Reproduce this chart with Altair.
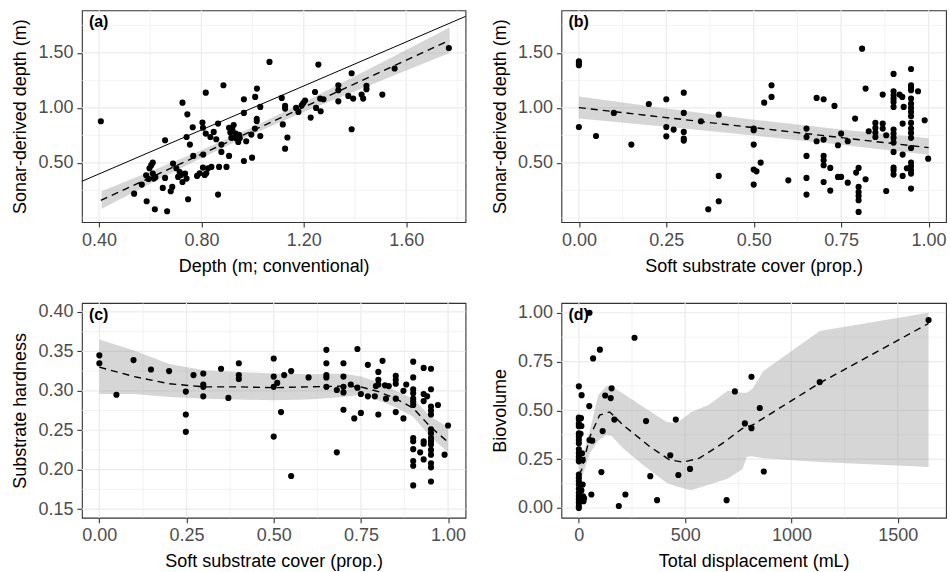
import altair as alt
import pandas as pd

FONT = "Liberation Sans"
GRID = "#EBEBEB"
INK = "#333333"

# ---------------- Panel (a) ----------------
a_x = [0.407, 1.066, 0.886, 0.817, 0.726, 0.745, 0.766, 0.804, 0.806, 0.817, 0.835, 0.848, 0.865, 0.858,
       0.878, 0.878, 0.908, 0.913, 0.926, 0.921, 0.934, 0.917, 0.947, 0.934, 0.950, 0.908, 0.966, 0.966,
       0.975, 0.966, 0.998, 0.995, 1.016, 1.016, 1.017, 1.010, 1.030, 1.030, 0.755, 0.742, 0.658, 0.768,
       0.807, 0.869, 0.898, 0.865, 0.806, 0.793, 0.819, 0.826, 0.839, 0.813, 0.783, 0.736, 0.742, 0.726,
       0.709, 0.702, 0.689, 0.715, 0.686, 0.680, 0.658, 0.649, 0.610, 0.597, 0.610, 0.614, 0.584, 0.593,
       0.567, 0.537, 0.586, 0.618, 0.666, 0.748, 1.009, 0.944, 0.604, 0.620, 0.720,
       1.257, 1.114, 1.127, 1.127, 1.118, 1.136, 1.127, 1.170, 1.179, 1.192, 1.198, 1.205, 1.227, 1.244,
       1.248, 1.266, 1.264, 1.277, 1.335, 1.335, 1.335, 1.374, 1.387, 1.387, 1.393, 1.426, 1.432, 1.445,
       1.445, 1.507, 1.555, 1.767]
a_y = [0.879, 1.418, 1.206, 1.139, 1.048, 0.942, 0.824, 0.867, 0.820, 0.767, 0.736, 0.782, 0.858, 0.715,
       0.667, 0.600, 0.820, 0.776, 0.845, 0.800, 0.767, 0.728, 0.755, 0.727, 0.727, 0.564, 1.079, 0.955,
       0.697, 0.518, 0.548, 0.758, 0.900, 0.879, 1.176, 1.100, 1.009, 0.745, 0.667, 0.736, 0.706, 0.564,
       0.576, 0.464, 0.464, 0.212, 0.458, 0.406, 0.406, 0.452, 0.464, 0.391, 0.382, 0.403, 0.358, 0.327,
       0.373, 0.452, 0.494, 0.418, 0.282, 0.243, 0.364, 0.273, 0.503, 0.452, 0.403, 0.358, 0.388, 0.355,
       0.303, 0.221, 0.152, 0.079, 0.061, 0.170, 0.812, 0.691, 0.480, 0.370, 0.390,
       1.394, 1.091, 1.018, 0.994, 0.850, 0.731, 0.630, 1.000, 0.964, 1.024, 1.045, 1.067, 0.912, 1.145,
       1.000, 0.970, 1.085, 1.079, 1.206, 1.161, 1.060, 1.109, 1.315, 0.806, 1.085, 1.121, 1.085, 1.200,
       1.170, 1.121, 1.358, 1.545]
a_fit_x = [0.407, 1.77]
a_fit_y = [0.160, 1.615]
a_band_x = [0.41, 0.6, 0.8, 1.0, 1.2, 1.4, 1.6, 1.77]
a_band_lo = [0.084, 0.310, 0.544, 0.762, 0.962, 1.152, 1.341, 1.500]
a_band_hi = [0.242, 0.422, 0.616, 0.824, 1.052, 1.288, 1.527, 1.730]
a_one_x = [0.3, 1.9]
a_one_y = [0.3, 1.9]

# ---------------- Panel (b) ----------------
b_pts = [(0, 1.424), (0, 1.403), (0, 1.388), (0, 0.827), (0.049, 0.745), (0.1, 0.955), (0.15, 0.667),
         (0.2, 1.036), (0.25, 1.079), (0.25, 0.827), (0.25, 0.742), (0.271, 0.803), (0.3, 1.139),
         (0.3, 0.955), (0.3, 0.782), (0.3, 0.721), (0.3, 0.703), (0.349, 0.879), (0.4, 0.939),
         (0.4, 0.382), (0.4, 0.152), (0.37, 0.079), (0.5, 0.812), (0.5, 0.797), (0.5, 0.667), (0.5, 0.44),
         (0.508, 0.424), (0.5, 0.303), (0.52, 0.503), (0.53, 1.048), (0.551, 1.206), (0.551, 1.1),
         (0.599, 0.342), (0.651, 0.812), (0.651, 0.736), (0.651, 0.564), (0.651, 0.364), (0.651, 0.212),
         (0.68, 1.091), (0.68, 0.697), (0.7, 1.079), (0.7, 0.712), (0.7, 0.564), (0.7, 0.524), (0.7, 0.479),
         (0.7, 0.327), (0.719, 0.455), (0.719, 0.249), (0.731, 1.018), (0.741, 0.661), (0.75, 0.767),
         (0.741, 0.373), (0.75, 0.373), (0.769, 0.697), (0.769, 0.321), (0.79, 0.903), (0.793, 0.412),
         (0.8, 0.455), (0.8, 0.282), (0.8, 0.236), (0.8, 0.2), (0.8, 0.161), (0.8, 0.055), (0.81, 1.539),
         (0.82, 1.176), (0.82, 0.352), (0.829, 0.788), (0.848, 0.864), (0.848, 0.818), (0.848, 0.776),
         (0.848, 0.736), (0.869, 1.121), (0.869, 0.858), (0.869, 0.812), (0.879, 0.752), (0.879, 0.245),
         (0.9, 1.309), (0.9, 1.152), (0.9, 1.115), (0.9, 1.085), (0.9, 1.055), (0.9, 1.009), (0.9, 0.803),
         (0.9, 0.767), (0.9, 0.728), (0.9, 0.685), (0.9, 0.6), (0.9, 0.458), (0.9, 0.433), (0.9, 0.394),
         (0.917, 1.121), (0.925, 1.1), (0.929, 1.009), (0.926, 0.858), (0.926, 0.576), (0.926, 0.382),
         (0.938, 0.452), (0.95, 1.354), (0.95, 1.206), (0.95, 1.182), (0.95, 1.161), (0.95, 1.085),
         (0.95, 1.039), (0.95, 1.0), (0.95, 0.964), (0.95, 0.924), (0.95, 0.864), (0.95, 0.812),
         (0.95, 0.773), (0.95, 0.728), (0.95, 0.636), (0.95, 0.503), (0.95, 0.47), (0.95, 0.433),
         (0.95, 0.403), (0.95, 0.267), (0.97, 1.152), (0.989, 0.888), (0.999, 0.539)]
b_x = [p[0] for p in b_pts]
b_y = [p[1] for p in b_pts]
b_fit_x = [0.0, 1.0]
b_fit_y = [1.003, 0.639]
b_band_x = [0.0, 0.25, 0.5, 0.75, 1.0]
b_band_lo = [0.903, 0.829, 0.749, 0.665, 0.575]
b_band_hi = [1.103, 0.995, 0.893, 0.805, 0.725]

# ---------------- Panel (c) ----------------
c_pts = [(0, 0.345), (0, 0.335), (0.049, 0.295), (0.098, 0.339), (0.148, 0.327), (0.2, 0.325),
         (0.248, 0.299), (0.248, 0.27), (0.248, 0.248), (0.27, 0.32), (0.298, 0.322), (0.298, 0.308),
         (0.298, 0.305), (0.298, 0.293), (0.349, 0.328), (0.37, 0.291), (0.4, 0.335), (0.4, 0.32),
         (0.4, 0.315), (0.5, 0.341), (0.5, 0.318), (0.5, 0.305), (0.5, 0.242), (0.51, 0.31), (0.521, 0.273),
         (0.53, 0.32), (0.55, 0.325), (0.55, 0.192), (0.6, 0.317), (0.651, 0.352), (0.651, 0.335),
         (0.651, 0.32), (0.651, 0.317), (0.651, 0.305), (0.681, 0.222), (0.681, 0.301), (0.7, 0.335),
         (0.7, 0.318), (0.7, 0.305), (0.7, 0.298), (0.7, 0.276), (0.721, 0.308), (0.731, 0.265),
         (0.74, 0.353), (0.74, 0.304), (0.75, 0.296), (0.75, 0.272), (0.77, 0.333), (0.77, 0.293),
         (0.79, 0.293), (0.793, 0.306), (0.8, 0.324), (0.8, 0.314), (0.8, 0.308), (0.8, 0.27),
         (0.812, 0.338), (0.819, 0.307), (0.822, 0.29), (0.83, 0.306), (0.85, 0.319), (0.85, 0.314),
         (0.85, 0.309), (0.85, 0.29), (0.85, 0.273), (0.872, 0.3), (0.872, 0.265), (0.88, 0.308),
         (0.9, 0.337), (0.9, 0.317), (0.9, 0.302), (0.9, 0.297), (0.9, 0.29), (0.9, 0.286), (0.9, 0.282),
         (0.9, 0.24), (0.9, 0.236), (0.9, 0.226), (0.9, 0.211), (0.9, 0.205), (0.9, 0.18), (0.92, 0.222),
         (0.93, 0.329), (0.93, 0.296), (0.93, 0.287), (0.93, 0.236), (0.93, 0.233), (0.93, 0.213),
         (0.94, 0.293), (0.951, 0.328), (0.951, 0.302), (0.951, 0.28), (0.951, 0.275), (0.951, 0.27),
         (0.951, 0.251), (0.951, 0.246), (0.951, 0.24), (0.951, 0.236), (0.951, 0.232), (0.951, 0.225),
         (0.951, 0.219), (0.951, 0.208), (0.951, 0.203), (0.951, 0.185), (0.971, 0.282), (0.99, 0.219),
         (1.0, 0.256)]
c_x = [p[0] for p in c_pts]
c_y = [p[1] for p in c_pts]
c_band_x = [0.0, 0.1, 0.2, 0.3, 0.4, 0.5, 0.6, 0.7, 0.75, 0.8, 0.85, 0.9, 0.95, 1.0]
c_fit = [0.330, 0.318, 0.309, 0.305, 0.305, 0.304, 0.305, 0.306, 0.305, 0.299, 0.290, 0.278, 0.254, 0.235]
c_band_hi = [0.365, 0.351, 0.334, 0.326, 0.324, 0.322, 0.321, 0.322, 0.318, 0.311, 0.300, 0.290, 0.267, 0.254]
c_band_lo = [0.296, 0.296, 0.292, 0.290, 0.289, 0.288, 0.289, 0.292, 0.295, 0.288, 0.279, 0.267, 0.241, 0.222]

# ---------------- Panel (d) ----------------
d_pts = [(0, 0.623), (0, 0.463), (0, 0.453), (0, 0.432), (0, 0.419), (0, 0.382), (0, 0.365), (0, 0.348),
         (0, 0.331), (0, 0.301), (0, 0.281), (0, 0.263), (0, 0.247), (0, 0.239), (0, 0.171), (0, 0.154),
         (0, 0.137), (0, 0.12), (0, 0.098), (0, 0.078), (0, 0.061), (0, 0.044), (0, 0.027), (0, 0.01),
         (0, 0.0), (13, 0.578), (10, 0.46), (12, 0.42), (8, 0.38), (15, 0.28), (18, 0.245), (20, 0.06),
         (22, 0.035), (12, 0.09), (25, 0.05), (18, 0.12), (49, 0.522), (50, 0.348), (63, 0.345),
         (67, 0.766), (99, 0.811), (50, 1.0), (262, 0.872), (59, 0.069), (106, 0.184), (112, 0.394),
         (124, 0.576), (150, 0.563), (154, 0.613), (167, 0.453), (188, 0.010), (219, 0.069), (316, 0.445),
         (336, 0.163), (368, 0.040), (430, 0.27), (456, 0.453), (468, 0.169), (523, 0.2), (695, 0.04),
         (734, 0.597), (781, 0.433), (812, 0.672), (812, 0.409), (851, 0.512), (870, 0.187), (1133, 0.645),
         (1645, 0.963)]
d_x = [p[0] for p in d_pts]
d_y = [p[1] for p in d_pts]
d_fit_x = [0, 13, 52, 98, 145, 208, 333, 426, 489, 567, 677, 770, 817, 1133, 1645]
d_fit_y = [0.17, 0.196, 0.365, 0.476, 0.492, 0.425, 0.315, 0.247, 0.235, 0.255, 0.332, 0.408, 0.425, 0.64, 0.945]
d_band_x = [0, 13, 52, 91, 130, 153, 208, 302, 411, 460, 528, 614, 700, 770, 790, 817, 867, 1133, 1645]
d_band_lo = [0.12, 0.154, 0.281, 0.345, 0.374, 0.37, 0.306, 0.22, 0.13, 0.11, 0.091, 0.12, 0.15, 0.2,
             0.262, 0.265, 0.255, 0.235, 0.21]
d_band_hi = [0.22, 0.247, 0.399, 0.577, 0.623, 0.623, 0.586, 0.518, 0.442, 0.434, 0.49, 0.53, 0.6, 0.59,
             0.59, 0.611, 0.70, 0.907, 1.0]


def panel(px, py, xdom, ydom, xmaj, xmin, ymaj, ymin, xfmt, yfmt, xtitle, ytitle, label, w, h,
          band=None, fit=None, ident=None):
    xs = alt.Scale(domain=xdom, nice=False, zero=False)
    ys = alt.Scale(domain=ydom, nice=False, zero=False)
    xa = alt.Axis(values=xmaj, format=xfmt, title=xtitle)
    ya = alt.Axis(values=ymaj, format=yfmt, title=ytitle)
    X = lambda f: alt.X(f, type="quantitative", scale=xs, axis=xa)
    Y = lambda f: alt.Y(f, type="quantitative", scale=ys, axis=ya)
    layers = []
    layers.append(alt.Chart(pd.DataFrame({"x": xmin})).mark_rule(color=GRID, strokeWidth=0.6).encode(x=X("x")))
    layers.append(alt.Chart(pd.DataFrame({"y": ymin})).mark_rule(color=GRID, strokeWidth=0.6).encode(y=Y("y")))
    layers.append(alt.Chart(pd.DataFrame({"x": xmaj})).mark_rule(color=GRID, strokeWidth=1.2).encode(x=X("x")))
    layers.append(alt.Chart(pd.DataFrame({"y": ymaj})).mark_rule(color=GRID, strokeWidth=1.2).encode(y=Y("y")))
    if band is not None:
        bx, blo, bhi = band
        layers.append(alt.Chart(pd.DataFrame({"x": bx, "lo": blo, "hi": bhi}))
                      .mark_area(color="#999999", opacity=0.4)
                      .encode(x=X("x"), y=Y("lo"), y2="hi"))
    if ident is not None:
        ix, iy = ident
        layers.append(alt.Chart(pd.DataFrame({"x": ix, "y": iy}))
                      .mark_line(color="black", strokeWidth=1.0, clip=True)
                      .encode(x=X("x"), y=Y("y")))
    if fit is not None:
        fx, fy = fit
        layers.append(alt.Chart(pd.DataFrame({"x": fx, "y": fy}))
                      .mark_line(color="black", strokeWidth=1.4, strokeDash=[7, 5], clip=True)
                      .encode(x=X("x"), y=Y("y")))
    layers.append(alt.Chart(pd.DataFrame({"x": px, "y": py}))
                  .mark_circle(color="black", size=38, opacity=1)
                  .encode(x=X("x"), y=Y("y")))
    layers.append(alt.Chart(pd.DataFrame({"t": [label]}))
                  .mark_text(font=FONT, fontSize=16, fontWeight="bold", align="left",
                             baseline="middle", color="black")
                  .encode(text="t:N", x=alt.value(7), y=alt.value(12)))
    return alt.layer(*layers).properties(width=w, height=h)


YD_AB = [-0.0375, 1.8875]
pa = panel(a_x, a_y, [0.333, 1.832], YD_AB, [0.4, 0.8, 1.2, 1.6], [0.6, 1.0, 1.4, 1.8],
           [0.5, 1.0, 1.5], [0.0, 0.25, 0.75, 1.25, 1.75], ".2f", ".2f",
           "Depth (m; conventional)", "Sonar-derived depth (m)", "(a)", 384, 212,
           band=(a_band_x, a_band_lo, a_band_hi), fit=(a_fit_x, a_fit_y), ident=(a_one_x, a_one_y))
pb = panel(b_x, b_y, [-0.05, 1.05], YD_AB, [0, 0.25, 0.5, 0.75, 1.0], [0.125, 0.375, 0.625, 0.875],
           [0.5, 1.0, 1.5], [0.0, 0.25, 0.75, 1.25, 1.75], ".2f", ".2f",
           "Soft substrate cover (prop.)", "Sonar-derived depth (m)", "(b)", 385, 212,
           band=(b_band_x, b_band_lo, b_band_hi), fit=(b_fit_x, b_fit_y))
pc = panel(c_x, c_y, [-0.05, 1.05], [0.139, 0.4114], [0, 0.25, 0.5, 0.75, 1.0], [0.125, 0.375, 0.625, 0.875],
           [0.15, 0.2, 0.25, 0.3, 0.35, 0.4], [0.175, 0.225, 0.275, 0.325, 0.375], ".2f", ".2f",
           "Soft substrate cover (prop.)", "Substrate hardness", "(c)", 384, 215,
           band=(c_band_x, c_band_lo, c_band_hi), fit=(c_band_x, c_fit))
pd_ = panel(d_x, d_y, [-82, 1727], [-0.05, 1.05], [0, 500, 1000, 1500], [250, 750, 1250],
            [0, 0.25, 0.5, 0.75, 1.0], [0.125, 0.375, 0.625, 0.875], "d", ".2f",
            "Total displacement (mL)", "Biovolume", "(d)", 385, 215,
            band=(d_band_x, d_band_lo, d_band_hi), fit=(d_fit_x, d_fit_y))

chart = alt.concat(pa, pb, pc, pd_, columns=2, spacing={"row": 81, "column": 96}, bounds="flush").properties(
    padding={"left": 11, "top": 8, "right": 2, "bottom": 2},
    background="white"
).configure_view(stroke=INK, strokeWidth=1.1).configure_axis(
    labelFont=FONT, labelFontSize=18, labelColor="#4D4D4D", titleFont=FONT, titleFontSize=18,
    titleFontWeight="normal", titleColor="black", tickColor=INK, tickSize=5, tickWidth=1.1,
    domain=False, grid=False, labelPadding=4, titlePadding=8, labelFlush=False, labelOverlap=False
)

chart.save("out.html", embed_options={"renderer": "svg", "actions": False})
